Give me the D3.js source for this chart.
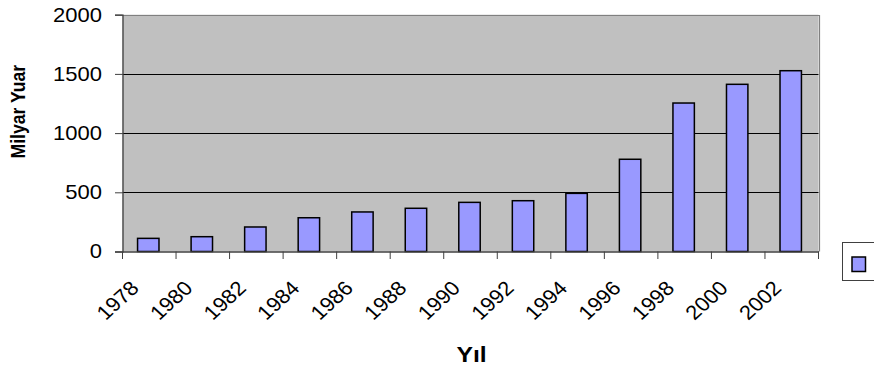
<!DOCTYPE html>
<html>
<head>
<meta charset="utf-8">
<script src="https://cdn.jsdelivr.net/npm/d3@7"></script>
<style>
  html, body { margin: 0; padding: 0; background: #fff; }
  svg { display: block; font-family: "Liberation Sans", Arial, sans-serif; }
</style>
</head>
<body>
<script>
// Yearly values, in billions of yuan
const years = ["1978", "1980", "1982", "1984", "1986", "1988", "1990",
               "1992", "1994", "1996", "1998", "2000", "2002"];
const values = [111, 125, 207, 285, 334, 365, 415, 429, 491, 779, 1254, 1412, 1527];
const yTicks = [0, 500, 1000, 1500, 2000];

const width = 874, height = 369;
const plot = { left: 122.5, right: 818.5, top: 14.7, bottom: 251.5 };
// text is drawn slightly wide
const stretch = "scale(1.1,1)";

const svg = d3.select("body").append("svg")
  .attr("width", width).attr("height", height);

const x = d3.scaleBand()
  .domain(years)
  .range([plot.left, plot.right])
  .paddingInner(0.6)
  .paddingOuter(0.3);

const y = d3.scaleLinear()
  .domain([0, 2000])
  .range([plot.bottom, plot.top]);

// plot background
svg.append("rect")
  .attr("x", plot.left).attr("y", plot.top)
  .attr("width", plot.right - plot.left)
  .attr("height", plot.bottom - plot.top)
  .attr("fill", "#c0c0c0");

// horizontal gridlines
svg.append("g")
  .selectAll("line")
  .data(yTicks.filter(d => d > 0 && d < 2000))
  .join("line")
  .attr("x1", plot.left).attr("x2", plot.right)
  .attr("y1", d => Math.round(y(d)) + 0.5).attr("y2", d => Math.round(y(d)) + 0.5)
  .attr("stroke", "#000").attr("stroke-width", 1);

// top and right frame
svg.append("path")
  .attr("d", `M${plot.left},${Math.round(plot.top) + 0.5}H${Math.round(plot.right) + 0.5}V${plot.bottom}`)
  .attr("fill", "none").attr("stroke", "#808080").attr("stroke-width", 1.2);

// bars
svg.append("g")
  .selectAll("rect")
  .data(values)
  .join("rect")
  .attr("x", (d, i) => x(years[i]) - 1)
  .attr("y", d => y(d))
  .attr("width", x.bandwidth())
  .attr("height", d => y(0) - y(d))
  .attr("fill", "#9999ff")
  .attr("stroke", "#000")
  .attr("stroke-width", 1.5);

// y axis
const yAxis = svg.append("g")
  .attr("transform", `translate(${plot.left},0)`)
  .call(d3.axisLeft(y).tickValues(yTicks).tickSize(7.5).tickFormat(d3.format("d")));
yAxis.select(".domain").attr("stroke", "#404040").attr("stroke-width", 1.3);
yAxis.selectAll(".tick line").attr("stroke", "#404040");
yAxis.selectAll(".tick text")
  .attr("x", 0)
  .attr("transform", `translate(-20.5,0) ${stretch}`)
  .attr("font-size", 20).attr("fill", "#000")
  .attr("font-family", "Liberation Sans, Arial, sans-serif");

// x axis: ticks sit on the category boundaries
const xAxis = svg.append("g")
  .attr("transform", `translate(0,${plot.bottom})`)
  .call(d3.axisBottom(x).tickSize(0).tickSizeOuter(0));
xAxis.select(".domain").attr("stroke", "#404040").attr("stroke-width", 1.3);
xAxis.selectAll(".tick line").remove();
xAxis.selectAll(".tick")
  .append("line")
  .attr("x1", -x.step() / 2).attr("x2", -x.step() / 2)
  .attr("y1", 0).attr("y2", 7.5)
  .attr("stroke", "#404040");
xAxis.append("line")
  .attr("x1", plot.right).attr("x2", plot.right)
  .attr("y1", 0).attr("y2", 7.5)
  .attr("stroke", "#404040");
xAxis.selectAll(".tick text")
  .attr("x", 0).attr("y", 0).attr("dy", 0)
  .attr("transform", `translate(-9,38) ${stretch} rotate(-45)`)
  .attr("text-anchor", "end")
  .attr("font-size", 20).attr("fill", "#000")
  .attr("font-family", "Liberation Sans, Arial, sans-serif");

// axis titles
svg.append("text")
  .attr("transform", `translate(${(plot.left + plot.right) / 2 + 1},361.5) ${stretch}`)
  .attr("text-anchor", "middle")
  .attr("font-size", 22.5).attr("font-weight", "bold")
  .text("Yıl");

svg.append("text")
  .attr("transform", `translate(25,111.7) ${stretch} rotate(-90)`)
  .attr("text-anchor", "middle")
  .attr("font-size", 17.6).attr("font-weight", "bold")
  .text("Milyar Yuar");

// legend
const legend = svg.append("g");
legend.append("rect")
  .attr("x", 842.5).attr("y", 242.5)
  .attr("width", 60).attr("height", 38)
  .attr("fill", "#fff").attr("stroke", "#404040").attr("stroke-width", 1);
legend.append("rect")
  .attr("x", 852).attr("y", 257)
  .attr("width", 13.5).attr("height", 14.5)
  .attr("fill", "#9999ff").attr("stroke", "#000").attr("stroke-width", 1.5);
</script>
</body>
</html>
